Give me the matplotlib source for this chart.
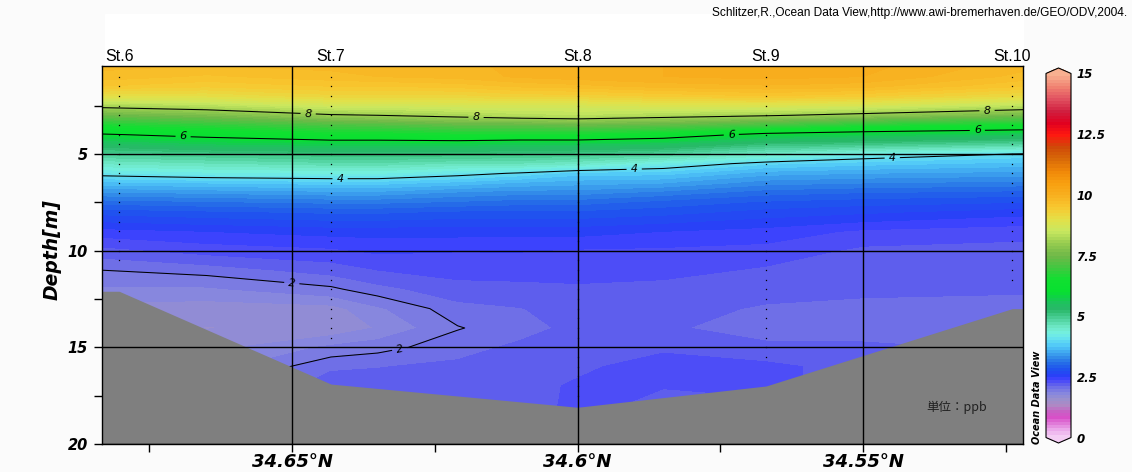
import numpy as np
import matplotlib
matplotlib.use("Agg")
import matplotlib.pyplot as plt
from matplotlib.colors import LinearSegmentedColormap
from matplotlib.patches import Rectangle
import matplotlib.transforms as mtransforms

depths = [0.4, 1.0, 1.5, 2.0, 2.5, 3.0, 3.5, 4.0, 4.5, 5.0, 5.5, 6.0, 6.5,
          7.0, 7.5, 8.0, 9.0, 10.0, 11.0, 12.0, 13.0, 14.0, 15.0, 16.0, 17.0, 18.5]

col_lats = [34.6840, 34.6650, 34.6432, 34.6350, 34.6210, 34.6100,
            34.6000, 34.5850, 34.5670, 34.5500, 34.5215]

col_a = [9.8, 9.7, 9.5, 9.0, 8.15, 7.4, 6.6, 5.95, 5.4, 4.9, 4.5, 4.1, 3.7,
         3.35, 3.05, 2.8, 2.45, 2.2, 2.0, 1.85, 1.7, 1.7, 1.8, 1.9, 2.0, 2.1]
col_b = [9.75, 9.6, 9.4, 9.0, 8.3, 7.6, 6.8, 6.15, 5.6, 5.0, 4.6, 4.2, 3.75,
         3.4, 3.1, 2.85, 2.5, 2.3, 2.06, 1.85, 1.68, 1.62, 1.7, 1.8, 1.9, 2.0]
col_c = [9.8, 9.7, 9.5, 9.2, 8.6, 7.95, 7.1, 6.4, 5.7, 5.1, 4.7, 4.25, 3.8,
         3.45, 3.15, 2.9, 2.55, 2.35, 2.18, 1.97, 1.7, 1.65, 1.9, 2.1, 2.2, 2.2]
col_d = [9.8, 9.75, 9.5, 9.2, 8.6, 8.0, 7.15, 6.4, 5.7, 5.1, 4.7, 4.25, 3.8,
         3.45, 3.15, 2.9, 2.55, 2.4, 2.25, 2.08, 1.85, 1.76, 1.95, 2.12, 2.18, 2.2]
col_e = [9.85, 9.8, 9.55, 9.2, 8.7, 8.15, 7.3, 6.5, 5.7, 5.1, 4.6, 4.1, 3.7,
         3.35, 3.1, 2.85, 2.55, 2.38, 2.3, 2.2, 2.08, 1.99, 2.08, 2.15, 2.2, 2.2]
col_f = [9.9, 9.9, 9.65, 9.3, 8.7, 8.3, 7.3, 6.5, 5.6, 5.05, 4.6, 3.97, 3.6,
         3.3, 3.05, 2.85, 2.55, 2.38, 2.32, 2.2, 2.12, 2.08, 2.15, 2.17, 2.2, 2.2]
col_g = [9.95, 9.95, 9.7, 9.3, 8.7, 8.35, 7.4, 6.5, 5.6, 5.0, 4.5, 3.8, 3.55,
         3.3, 3.05, 2.85, 2.55, 2.36, 2.32, 2.22, 2.18, 2.16, 2.2, 2.22, 2.27, 2.28]
col_h = [10.0, 10.0, 9.8, 9.4, 8.8, 8.2, 7.3, 6.3, 5.5, 4.85, 4.2, 3.8, 3.5,
         3.2, 2.95, 2.8, 2.5, 2.35, 2.3, 2.2, 2.17, 2.15, 2.22, 2.32, 2.26, 2.15]
col_i = [10.05, 10.05, 9.85, 9.5, 8.8, 8.05, 7.0, 5.85, 5.1, 4.5, 3.9, 3.55, 3.3,
         3.05, 2.85, 2.7, 2.45, 2.33, 2.23, 2.17, 2.11, 2.05, 2.16, 2.28, 2.28, 2.2]
col_j = [10.05, 10.0, 9.8, 9.4, 8.7, 7.85, 6.7, 5.7, 5.0, 4.2, 3.8, 3.5, 3.25,
         3.0, 2.8, 2.65, 2.35, 2.22, 2.17, 2.16, 2.08, 2.06, 2.15, 2.2, 2.2, 2.2]
col_k = [9.8, 9.7, 9.5, 9.1, 8.35, 7.5, 6.45, 5.55, 4.8, 3.98, 3.7, 3.45, 3.2,
         2.95, 2.75, 2.55, 2.3, 2.2, 2.16, 2.14, 2.08, 2.06, 2.1, 2.1, 2.1, 2.1]

station_names = ["St.6", "St.7", "St.8", "St.9", "St.10"]
station_lats = [34.6803, 34.6432, 34.6000, 34.5670, 34.5239]
station_last_sample = [10.5, 14.5, 17.5, 15.5, 11.5]
sample_depths = [1.0, 1.5, 2.0, 2.5, 3.0, 3.5, 4.0, 4.5, 5.0, 5.5, 6.0, 6.5,
                 7.0, 7.5, 8.0, 8.5, 9.0, 9.5, 10.0, 10.5, 11.0, 11.5, 12.0,
                 12.5, 13.0, 13.5, 14.0, 14.5, 15.0, 15.5, 16.0, 16.5, 17.0, 17.5]

bottom_lats = [34.6840, 34.6803, 34.6432, 34.6000, 34.5670, 34.5239, 34.5215]
bottom_depths = [12.1, 12.1, 16.9, 18.1, 17.0, 13.0, 13.0]

contour_levels = [2, 4, 6, 8]
label_spots = [(34.6472, 2.95), (34.6178, 3.2), (34.5283, 2.75),
               (34.6691, 4.1), (34.5731, 3.95), (34.5300, 3.75),
               (34.6416, 6.3), (34.5901, 5.75), (34.5449, 5.2),
               (34.6500, 11.5), (34.6311, 15.2)]

# ODV-like palette
pal = [(0.0, "#f4ccf4"), (0.25, "#eaa8ea"), (0.5, "#e07ad8"), (0.75, "#d850c8"),
       (1.0, "#c860c4"), (1.25, "#b088c4"), (1.5, "#9c90cc"), (1.75, "#8888dd"),
       (2.05, "#6c6ce8"), (2.2, "#5555f0"), (2.35, "#4444ff"), (2.5, "#2a40f8"),
       (2.75, "#2050f0"), (3.0, "#2468e8"), (3.25, "#3088e8"), (3.5, "#40a8f0"),
       (3.75, "#50c8f8"), (4.0, "#64e0f0"), (4.25, "#74f0e0"), (4.5, "#70e8c8"),
       (4.75, "#58d8a8"), (5.0, "#40c888"), (5.25, "#28b868"), (5.5, "#20c060"),
       (5.75, "#10d048"), (6.0, "#08e030"), (6.5, "#10e030"), (7.0, "#40c840"),
       (7.5, "#70b848"), (8.0, "#98cc50"), (8.5, "#c8e860"), (9.0, "#e4e048"),
       (9.5, "#f8c830"), (10.0, "#f8b020"), (10.5, "#f8a010"), (11.0, "#f08808"),
       (11.5, "#d86808"), (12.0, "#d04808"), (12.5, "#ff1810"), (13.0, "#e00020"),
       (13.5, "#d02040"), (14.0, "#e05060"), (14.5, "#f08070"), (15.0, "#f8b090")]
cmap = LinearSegmentedColormap.from_list("odv", [(v / 15.0, c) for v, c in pal], N=120)
cmap.set_over("#f8b090")
cmap.set_under("#f4ccf4")

field = np.column_stack([col_a, col_b, col_c, col_d, col_e, col_f,
                         col_g, col_h, col_i, col_j, col_k])

bold_it = dict(family="DejaVu Sans", weight="bold", style="oblique")

fig = plt.figure(figsize=(11.32, 4.72), dpi=100, facecolor="#fbfbfb")
W, H = 1132.0, 472.0
fig.patches.append(Rectangle((105 / W, 1 - 66 / H), 918 / W, 52 / H,
                             transform=fig.transFigure, color="white", zorder=-5))
ax = fig.add_axes([102 / W, 1 - 444 / H, 921 / W, 378 / H])

levels = np.linspace(0, 15, 121)
cs = ax.contourf(col_lats, depths, field, levels=levels, cmap=cmap,
                 extend="both", zorder=1)
cl = ax.contour(col_lats, depths, field, levels=contour_levels, colors="k",
                linewidths=0.75, zorder=1.2)
labs = ax.clabel(cl, fmt="%d", fontsize=8, inline=True, inline_spacing=4,
                 manual=label_spots)
for t in labs:
    t.set_fontstyle("italic")

# station sample dots
for lat, last in zip(station_lats, station_last_sample):
    ds = [d for d in sample_depths if d <= last]
    ax.plot([lat] * len(ds), ds, linestyle="none", marker="s", markersize=0.9,
            markeredgewidth=0, color="k", zorder=1.3)

# bottom topography
ax.fill_between(bottom_lats, bottom_depths, 21, color="#7f7f7f",
                linewidth=0, zorder=1.5)

ax.set_xlim(34.6833, 34.5220)
ax.set_ylim(20, 0.45)

ax.set_xticks([34.65, 34.6, 34.55])
ax.set_xticklabels(["34.65°N", "34.6°N", "34.55°N"])
ax.set_xticks([34.675, 34.625, 34.575, 34.525], minor=True)
ax.set_yticks([5, 10, 15, 20])
ax.set_yticks([2.5, 7.5, 12.5, 17.5], minor=True)
ax.tick_params(which="both", direction="out", length=6, width=1, color="k")
ax.tick_params(axis="x", pad=0.5)
ax.tick_params(axis="y", pad=4)
for t in ax.get_xticklabels():
    t.set_fontproperties(dict(bold_it, size=13))
for t in ax.get_yticklabels():
    t.set_fontproperties(dict(bold_it, size=10.5))

ax.grid(True, which="major", color="k", linewidth=1)
ax.set_axisbelow(False)
for s in ax.spines.values():
    s.set_linewidth(1)

# station labels above the frame
trans = mtransforms.blended_transform_factory(ax.transData, ax.transAxes)
for name, lat in zip(station_names, station_lats):
    ax.text(lat, 1.006, name, transform=trans, ha="center", va="bottom",
            family="Liberation Sans", fontsize=11.5)

fig.text(52 / W, 1 - 250 / H, "Depth[m]", rotation=90, ha="center", va="center",
         fontsize=13.5, **bold_it)

fig.text(1127 / W, 1 - 13 / H,
         "Schlitzer,R.,Ocean Data View,http://www.awi-bremerhaven.de/GEO/ODV,2004.",
         ha="right", va="center", family="Liberation Sans", fontsize=8.6)

ax.text(957 / W, 1 - 407 / H, "単位：ppb", transform=fig.transFigure,
        ha="center", va="center", fontsize=9, color="#202020",
        family=["Noto Sans CJK JP", "DejaVu Sans"], zorder=5)

fig.text(1037 / W, 1 - 397 / H, "Ocean Data View", rotation=90, ha="center",
         va="center", fontsize=7, **bold_it)

# colour bar
cax = fig.add_axes([1046 / W, 1 - 443 / H, 25 / W, 375 / H])
cb = fig.colorbar(cs, cax=cax, extend="both", extendfrac=0.015,
                  ticks=[0, 2.5, 5, 7.5, 10, 12.5, 15])
cb.ax.set_yticklabels(["0", "2.5", "5", "7.5", "10", "12.5", "15"])
cb.ax.tick_params(length=0, pad=4)
for t in cb.ax.get_yticklabels():
    t.set_fontproperties(dict(bold_it, size=8.5))
cb.outline.set_linewidth(0.8)

fig.savefig("out.png", dpi=100, facecolor=fig.get_facecolor())
